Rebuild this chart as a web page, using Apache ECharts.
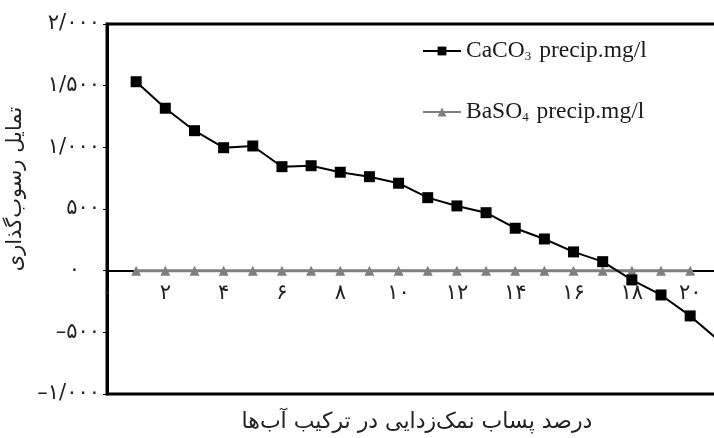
<!DOCTYPE html>
<html>
<head>
<meta charset="utf-8">
<script src="https://cdn.jsdelivr.net/npm/echarts@6/dist/echarts.min.js"></script>
<style>
html,body{margin:0;padding:0;background:#fff;}
#chart{width:714px;height:438px;}
</style>
</head>
<body>
<div id="chart"></div>
<script>
// Data
const xValues = [1,2,3,4,5,6,7,8,9,10,11,12,13,14,15,16,17,18,19,20,21];
const caco3 = [1532,1317,1135,997,1011,843,851,798,762,709,592,525,470,344,257,152,73,-75,-197,-367,-570];
const baso4X = [1,2,3,4,5,6,7,8,9,10,11,12,13,14,15,16,17,18,19,20];
const baso4 = [0,0,0,0,0,0,0,0,0,0,0,0,0,0,0,0,0,0,0,0];
const seriesNames = ['CaCO3 precip.mg/l', 'BaSO4 precip.mg/l'];
const yAxisTitle = 'تمایل رسوب‌گذاری';
const xAxisTitle = 'درصد پساب نمک‌زدایی در ترکیب آب‌ها';

const faDigits = '۰۱۲۳۴۵۶۷۸۹';
const fa = s => String(s).replace(/[0-9]/g, d => faDigits[d]);
function yFmt(v) {
  if (v === 0) return '{z|' + fa(0) + '}';
  const neg = v < 0;
  const a = Math.abs(v);
  let s = a >= 1000 ? Math.floor(a / 1000) + '/' + String(a % 1000).padStart(3, '0') : String(a);
  return (neg ? '–' : '') + fa(s);
}

const gridTop = 24, gridBottom = 44, chartH = 438;
const yMin = -1000, yMax = 2000;
// place the x axis line at y = 0 (offset from the bottom edge of the grid)
const plotH = chartH - gridTop - gridBottom;
const zeroOffset = -plotH * (0 - yMin) / (yMax - yMin);

const chart = echarts.init(document.getElementById('chart'), null, {renderer: 'canvas'});
const arabicFont = "'DejaVu Sans', sans-serif";
chart.setOption({
  animation: false,
  backgroundColor: '#fff',
  grid: {
    left: 107, top: gridTop, right: -3, bottom: gridBottom,
    containLabel: false,
    outerBoundsMode: 'none',
    show: true, borderColor: '#000', borderWidth: 3, backgroundColor: 'transparent'
  },
  legend: {
    orient: 'vertical',
    left: 422, top: 39,
    padding: 0,
    itemGap: 37,
    itemWidth: 38, itemHeight: 11,
    data: seriesNames,
    formatter: function (name) {
      if (name === seriesNames[0]) return '{n|CaCO}{s|3}{n| precip.mg/l}';
      return '{n|BaSO}{s|4}{n| precip.mg/l}';
    },
    textStyle: {
      rich: {
        n: {fontFamily: "'Liberation Serif', serif", fontSize: 23.5, color: '#1a1a1a'},
        s: {fontFamily: "'Liberation Serif', serif", fontSize: 13, color: '#1a1a1a', verticalAlign: 'bottom', padding: [0, 2, 0, 0]}
      }
    }
  },
  xAxis: {
    type: 'value',
    min: 0, max: 20.92, interval: 2,
    position: 'bottom',
    offset: zeroOffset,
    name: xAxisTitle,
    nameLocation: 'middle',
    nameGap: 141,
    nameTextStyle: {fontFamily: arabicFont, fontSize: 22, color: '#222', padding: [0, 0, 0, 10]},
    axisLine: {show: true, onZero: false, lineStyle: {color: '#000', width: 2}},
    axisTick: {show: false},
    splitLine: {show: false},
    axisLabel: {
      showMaxLabel: false,
      showMinLabel: true,
      margin: 12,
      fontFamily: arabicFont, fontSize: 21, color: '#222',
      formatter: v => fa(v)
    }
  },
  yAxis: {
    type: 'value',
    min: yMin, max: yMax, interval: 500,
    name: yAxisTitle,
    nameLocation: 'middle',
    nameRotate: 90,
    nameGap: 78,
    nameTextStyle: {fontFamily: arabicFont, fontSize: 21, color: '#222', padding: [0, 0, 0, 40]},
    axisLine: {show: true, onZero: false, lineStyle: {color: '#000', width: 3}},
    axisTick: {show: true, inside: false, length: 4, lineStyle: {color: '#000', width: 1}},
    splitLine: {show: false},
    axisLabel: {
      margin: 7,
      fontFamily: arabicFont, fontSize: 21, color: '#222',
      formatter: yFmt,
      rich: {
        z: {fontFamily: arabicFont, fontSize: 21, color: '#222', padding: [0, 20, 0, 0]}
      }
    }
  },
  series: [
    {
      name: seriesNames[1],
      type: 'line',
      data: baso4X.map((x, i) => [x, baso4[i]]),
      symbol: 'triangle', symbolSize: 10,
      itemStyle: {color: '#7f7f7f'},
      lineStyle: {color: '#7f7f7f', width: 3},
      z: 2
    },
    {
      name: seriesNames[0],
      type: 'line',
      data: xValues.map((x, i) => [x, caco3[i]]),
      symbol: 'rect', symbolSize: 11,
      itemStyle: {color: '#000'},
      lineStyle: {color: '#000', width: 2},
      clip: true,
      z: 3
    }
  ]
});
</script>
</body>
</html>
